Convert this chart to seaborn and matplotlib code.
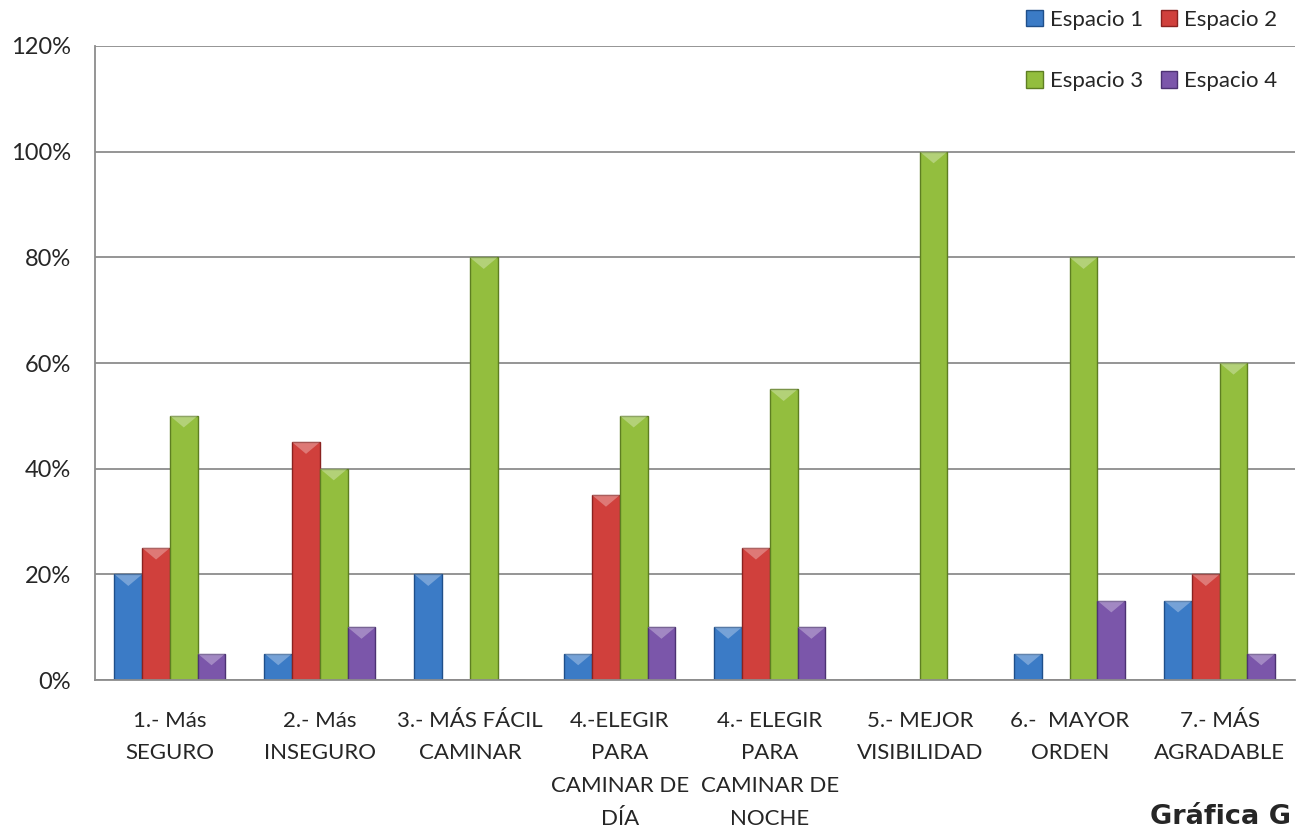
import matplotlib
matplotlib.use("Agg")
import matplotlib.pyplot as plt
import seaborn as sns
import pandas as pd
import numpy as np
from matplotlib.ticker import PercentFormatter
from matplotlib.patches import Patch

categories = ["1.- Más\nSEGURO", "2.- Más\nINSEGURO", "3.- MÁS FÁCIL\nCAMINAR",
              "4.-ELEGIR\nPARA\nCAMINAR DE\nDÍA", "4.- ELEGIR\nPARA\nCAMINAR DE\nNOCHE",
              "5.- MEJOR\nVISIBILIDAD", "6.-  MAYOR\nORDEN", "7.- MÁS\nAGRADABLE"]
series = ["Espacio 1", "Espacio 2", "Espacio 3", "Espacio 4"]
espacio1 = [20, 5, 20, 5, 10, 0, 5, 15]
espacio2 = [25, 45, 0, 35, 25, 0, 0, 20]
espacio3 = [50, 40, 80, 50, 55, 100, 80, 60]
espacio4 = [5, 10, 0, 10, 10, 0, 15, 5]
colors = ["#3b7bc6", "#d0403c", "#93be3e", "#7b56aa"]
edges = ["#1f4f8a", "#8a2220", "#5e7e22", "#4c3272"]

rows = []
for s, vals in zip(series, [espacio1, espacio2, espacio3, espacio4]):
    for c, v in zip(categories, vals):
        rows.append({"cat": c, "serie": s, "val": v})
df = pd.DataFrame(rows)

sns.set_theme(style="white")
plt.rcParams['font.family'] = ['Lato', 'DejaVu Sans']

fig = plt.figure(figsize=(12.97, 8.3), dpi=100)
ax = fig.add_axes([0.0732, 0.1807, 0.925, 0.7639])
sns.barplot(data=df, x="cat", y="val", hue="serie", palette=colors,
            width=0.74, ax=ax, legend=False, saturation=1)

for i, cont in enumerate(ax.containers):
    for p in cont.patches:
        p.set_edgecolor(edges[i])
        p.set_linewidth(1.0)
        h = p.get_height()
        if h > 0:
            x0 = p.get_x(); w = p.get_width()
            ax.fill([x0, x0 + w, x0 + w / 2], [h, h, h - 2.2], color="white",
                    alpha=0.3, lw=0, zorder=p.get_zorder() + 0.1)

ax.set_ylim(0, 120)
ax.set_yticks(np.arange(0, 121, 20))
ax.yaxis.set_major_formatter(PercentFormatter(decimals=0))
ax.yaxis.grid(True, color="#8c8c8c", linewidth=1.3)
ax.set_axisbelow(True)
ax.set_xlabel("")
ax.set_ylabel("")
for s in ["top", "right"]:
    ax.spines[s].set_visible(False)
for s in ["left", "bottom"]:
    ax.spines[s].set_color("#8c8c8c")
    ax.spines[s].set_linewidth(1.3)
ax.tick_params(axis="y", labelsize=17, pad=17, length=0)
ax.tick_params(axis="x", pad=22, length=0)
ax.set_xticks(range(len(categories)))
ax.set_xticklabels(categories, fontsize=16)
ax.set_xlim(-0.5, 7.5)

handles = [Patch(facecolor=c, edgecolor=e) for c, e in zip(colors, edges)]
order = [0, 2, 1, 3]
fig.legend([handles[i] for i in order], [series[i] for i in order], ncol=2,
           loc="upper right", bbox_to_anchor=(1.0, 1.012),
           frameon=False, fontsize=16, handlelength=0.75, handleheight=0.75,
           handletextpad=0.3, columnspacing=0.8, labelspacing=1.85)

fig.text(0.995, 0.0, "Gráfica G", fontsize=19.5, fontweight="bold", ha="right", va="bottom",
         family=["DejaVu Sans"])

fig.canvas.draw()
for t in ax.get_xticklabels():
    t.set_linespacing(1.8)

fig.savefig("out.png", dpi=100)
